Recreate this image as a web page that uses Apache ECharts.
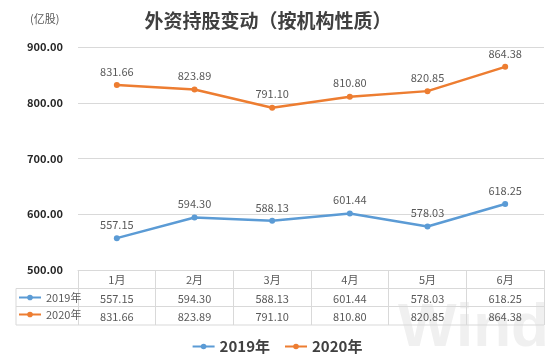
<!DOCTYPE html>
<html><head><meta charset="utf-8">
<script src="https://cdn.jsdelivr.net/npm/echarts@6/dist/echarts.min.js"></script>
<style>html,body{margin:0;padding:0;background:#fff}#c{width:554px;height:360px}</style>
</head><body><div id="c"></div>
<script>
const months = ['1月','2月','3月','4月','5月','6月'];
const s2019 = [557.15, 594.30, 588.13, 601.44, 578.03, 618.25];
const s2020 = [831.66, 823.89, 791.10, 810.80, 820.85, 864.38];
const names = ['2019年','2020年'];
const colors = ['#5b9bd5','#ed7d31'];
const font = '"Microsoft YaHei","Noto Sans CJK SC",sans-serif';
const chart = echarts.init(document.getElementById('c'));
chart.setOption({
  animation:false,
  textStyle:{fontFamily:font},
  title:{text:'外资持股变动（按机构性质）', left:263, textAlign:'center', top:6,
    textStyle:{fontSize:19, fontWeight:'bold', color:'#404040', fontFamily:font}},
  legend:[{
    data:names, top:334, left:'center', itemWidth:22, itemHeight:7, itemGap:14,
    textStyle:{fontSize:15, fontWeight:'bold', color:'#404040', fontFamily:font}
  },{
    data:names, orient:'vertical', left:18, top:292, itemWidth:22, itemHeight:7, itemGap:6, padding:0,
    textStyle:{fontSize:11, color:'#595959', fontFamily:font}
  }],
  grid:{left:78, right:10, top:47, height:223},
  xAxis:{type:'category', data:months, boundaryGap:true,
    axisLine:{show:true, lineStyle:{color:'#d9d9d9'}},
    axisTick:{show:true, length:55, lineStyle:{color:'#d9d9d9'}},
    axisLabel:{margin:1, fontSize:11, color:'#595959', lineHeight:18.3,
      formatter:(v,i)=> v + '\n' + s2019[i].toFixed(2) + '\n' + s2020[i].toFixed(2)}
  },
  yAxis:{type:'value', min:500, max:900, interval:100,
    axisLine:{show:false}, axisTick:{show:false},
    splitLine:{lineStyle:{color:'#d9d9d9'}},
    axisLabel:{margin:15, fontSize:11, fontWeight:'bold', color:'#262626', formatter:v=>v.toFixed(2)}
  },
  graphic:[
    {type:'text', left:398, top:298, z:-10, silent:true,
      style:{text:'Wind', fontSize:62, fontWeight:'bold', fill:'#f0f0f0', fontFamily:'Arial, sans-serif'}},
    {type:'text', left:30, top:13, style:{text:'(亿股)', fontSize:11, fill:'#595959', fontFamily:font}},
    {type:'line', shape:{x1:16,y1:288.5,x2:544,y2:288.5}, style:{stroke:'#d9d9d9', lineWidth:1}},
    {type:'line', shape:{x1:16,y1:306.5,x2:544,y2:306.5}, style:{stroke:'#d9d9d9', lineWidth:1}},
    {type:'line', shape:{x1:16,y1:325,x2:544,y2:325}, style:{stroke:'#d9d9d9', lineWidth:1}},
    {type:'line', shape:{x1:16,y1:288.5,x2:16,y2:325}, style:{stroke:'#d9d9d9', lineWidth:1}}
  ],
  series:[s2019, s2020].map((d,k)=>({
    name:names[k], type:'line', data:d, symbol:'circle', symbolSize:6,
    itemStyle:{color:colors[k]}, lineStyle:{width:2.5, color:colors[k]},
    label:{show:true, position:'top', distance:5, fontSize:11, color:'#595959', formatter:p=>p.value.toFixed(2)}
  }))
});
</script></body></html>
